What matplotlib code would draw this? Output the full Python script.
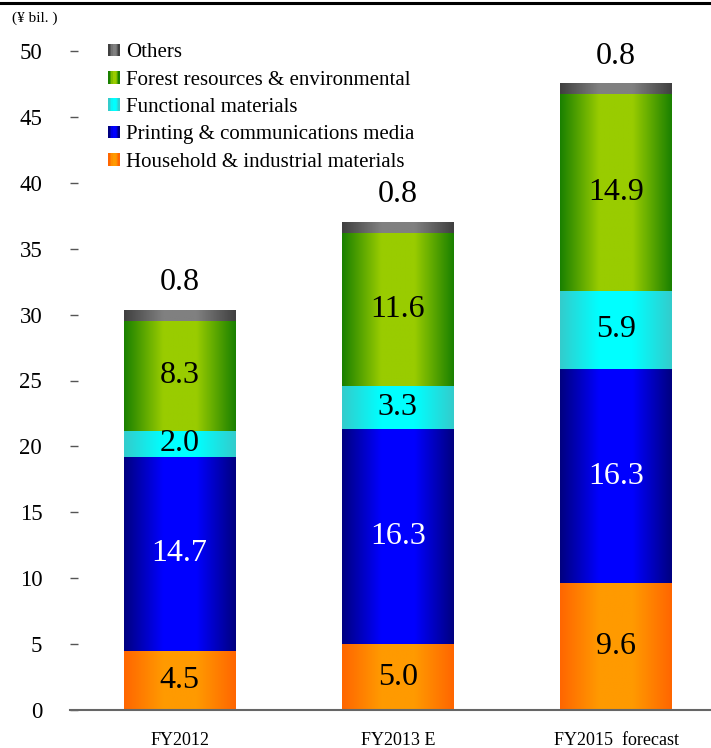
"""Stacked sales bars by segment, FY2012 to FY2015 forecast"""
import matplotlib

matplotlib.use("Agg")
import matplotlib.pyplot as plt
import numpy as np
from matplotlib.colors import to_rgb
from matplotlib.legend_handler import HandlerBase
from matplotlib.lines import Line2D
from matplotlib.patches import Rectangle

plt.rcParams["font.family"] = ["Liberation Serif", "DejaVu Serif"]

YEARS = ["FY2012", "FY2013 E", "FY2015  forecast"]
SEGMENTS = [
    "Household & industrial materials",
    "Printing & communications media",
    "Functional materials",
    "Forest resources & environmental",
    "Others",
]
HOUSEHOLD = [4.5, 5.0, 9.6]
PRINTING = [14.7, 16.3, 16.3]
FUNCTIONAL = [2.0, 3.3, 5.9]
FOREST = [8.3, 11.6, 14.9]
OTHERS = [0.8, 0.8, 0.8]
VALUES = [HOUSEHOLD, PRINTING, FUNCTIONAL, FOREST, OTHERS]

# (edge colour, centre colour) for the horizontal gradient of each segment
SHADES = [
    ("#ff6600", "#ff9a00"),
    ("#000080", "#0000ff"),
    ("#33cccc", "#00ffff"),
    ("#1a8000", "#99cc00"),
    ("#404040", "#808080"),
]
TEXT_COLORS = ["black", "white", "black", "black", "black"]


def gradient_row(edge, mid, n=200):
    u = np.linspace(0, 1, n)
    t = np.clip((1 - np.abs(2 * u - 1)) / 0.7, 0, 1)[:, None]
    e = np.array(to_rgb(edge))
    m = np.array(to_rgb(mid))
    return (e * (1 - t) + m * t)[None, :, :]


class GradientSwatch:
    def __init__(self, edge, mid):
        self.colors = (edge, mid)


class GradientHandler(HandlerBase):
    def create_artists(self, legend, orig_handle, xdescent, ydescent,
                       width, height, fontsize, trans):
        row = gradient_row(*orig_handle.colors, n=8)[0]
        step = width / len(row)
        return [Rectangle((-xdescent + i * step, -ydescent), step * 1.05, height,
                          facecolor=c, edgecolor="none", transform=trans)
                for i, c in enumerate(row)]


fig = plt.figure(figsize=(7.11, 7.48), dpi=100)
ax = fig.add_axes([70 / 711, 1 - 710 / 748, 641 / 711, 659 / 748])

x = np.arange(len(YEARS))
width = 0.51
bottoms = np.zeros(len(YEARS))
for seg, vals in enumerate(VALUES):
    for i, v in enumerate(vals):
        ax.imshow(gradient_row(*SHADES[seg]), extent=(x[i] - width / 2, x[i] + width / 2,
                  bottoms[i], bottoms[i] + v), aspect="auto", interpolation="bilinear",
                  zorder=2)
        if seg < len(VALUES) - 1:
            ax.text(x[i], bottoms[i] + v / 2, f"{v:.1f}", ha="center", va="center",
                    fontsize=23, color=TEXT_COLORS[seg], zorder=3)
        else:
            ax.annotate(f"{v:.1f}", (x[i], bottoms[i] + v), xytext=(0, 20),
                        textcoords="offset points", ha="center", va="center",
                        fontsize=23, color=TEXT_COLORS[seg], annotation_clip=False)
    bottoms += np.array(vals)

ax.set_xlim(-0.502, 2.435)
ax.set_ylim(0, 50)
ax.set_yticks(np.arange(0, 51, 5))
ax.set_xticks(x)
ax.set_xticklabels(YEARS, fontsize=13)
ax.tick_params(axis="y", direction="in", length=6, width=1, color="#555555",
               labelsize=16.5, pad=20)
ax.tick_params(axis="x", length=0, pad=16)
for side in ("top", "right", "left"):
    ax.spines[side].set_visible(False)
ax.spines["bottom"].set_color("#666666")
ax.spines["bottom"].set_linewidth(1.5)
ax.spines["bottom"].set_zorder(4)

handles = [GradientSwatch(*SHADES[k]) for k in reversed(range(len(SEGMENTS)))]
ax.legend(handles, list(reversed(SEGMENTS)),
          handler_map={GradientSwatch: GradientHandler()},
          loc="upper left", bbox_to_anchor=(98 / 711, 1 - 33 / 748),
          bbox_transform=fig.transFigure, frameon=False, borderpad=0,
          handlelength=0.55, handleheight=0.55, handletextpad=0.3,
          labelspacing=0.4, fontsize=15)

fig.text(12 / 711, 1 - 18 / 748, "(¥ bil. )", fontsize=11, va="center")
fig.add_artist(Line2D([0, 1], [1 - 2.5 / 748] * 2, color="black", lw=2.2,
                      transform=fig.transFigure))

plt.savefig("out.png")
print("Saved out.png")
